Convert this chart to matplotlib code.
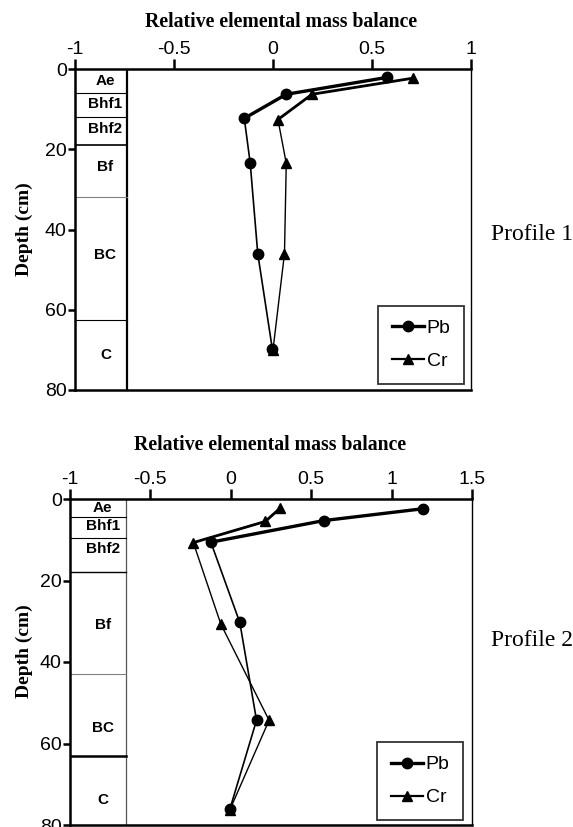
import matplotlib
matplotlib.use("Agg")
import matplotlib.pyplot as plt
from matplotlib.lines import Line2D

# ---------------- data ----------------
# Profile 1
p1_pb_x = [0.575, 0.067, -0.145, -0.115, -0.077, -0.003]
p1_pb_depth = [2.1, 6.3, 12.3, 23.5, 46.0, 69.9]
p1_cr_x = [0.705, 0.197, 0.025, 0.067, 0.058, 0.0]
p1_cr_depth = [2.3, 6.3, 12.6, 23.5, 46.0, 70.0]
p1_horizons = ["Ae", "Bhf1", "Bhf2", "Bf", "BC", "C"]
p1_label_depth = [3.1, 8.7, 15.0, 24.3, 46.3, 71.3]
p1_boundaries = [6, 12, 19, 32, 62.5]

# Profile 2
p2_pb_x = [1.193, 0.578, -0.124, 0.056, 0.160, -0.005]
p2_pb_depth = [2.4, 5.3, 10.6, 30.3, 54.3, 76.0]
p2_cr_x = [0.308, 0.215, -0.233, -0.062, 0.238, -0.005]
p2_cr_depth = [2.2, 5.5, 10.7, 30.7, 54.3, 76.2]
p2_horizons = ["Ae", "Bhf1", "Bhf2", "Bf", "BC", "C"]
p2_label_depth = [2.3, 6.6, 12.3, 31.0, 56.1, 73.9]
p2_boundaries = [4.3, 9.5, 17.8, 43, 63.1]

p1_xticks = [-1, -0.5, 0, 0.5, 1]
p1_xticklabels = ["-1", "-0.5", "0", "0.5", "1"]
p2_xticks = [-1, -0.5, 0, 0.5, 1, 1.5]
p2_xticklabels = ["-1", "-0.5", "0", "0.5", "1", "1.5"]
yticks = [0, 20, 40, 60, 80]

title_text = "Relative elemental mass balance"
ylabel_text = "Depth (cm)"

# ---------------- style ----------------
sans = ["Liberation Sans Narrow", "Liberation Sans", "DejaVu Sans"]
serif = ["Liberation Serif", "DejaVu Serif"]
boldsans = ["Liberation Sans", "DejaVu Sans"]

W, H = 573, 827
fig = plt.figure(figsize=(W / 100, H / 100), dpi=100)


def px_rect(left, right, top, bottom):
    return [left / W, 1 - bottom / H, (right - left) / W, (bottom - top) / H]


def make_panel(box, xlim, xticks, xticklabels, col_edge, col_style,
               pb_x, pb_d, cr_x, cr_d, horizons, label_d, bounds, bound_styles,
               leg_anchor, profile_name, title_xy, ylabel_xy, profile_y):
    ax = fig.add_axes(px_rect(*box))
    ax.set_xlim(*xlim)
    ax.set_ylim(80, 0)
    ax.xaxis.tick_top()
    ax.set_xticks(xticks)
    ax.set_xticklabels(xticklabels, family=sans, fontsize=14)
    ax.set_yticks(yticks)
    ax.set_yticklabels([str(v) for v in yticks], family=sans, fontsize=14)
    ax.tick_params(axis="x", direction="out", length=7, width=1.8, pad=1)
    ax.tick_params(axis="y", direction="out", length=5, width=1.8, pad=1)
    for s in ["top", "left", "bottom"]:
        ax.spines[s].set_linewidth(1.8)
    ax.spines["right"].set_linewidth(1.0)

    # horizon column
    ax.plot([col_edge, col_edge], [0, 80], color=col_style[0], lw=col_style[1])
    for b, (c, lw) in zip(bounds, bound_styles):
        ax.plot([xlim[0], col_edge], [b, b], color=c, lw=lw)
    cx = xlim[0] + 0.59 * (col_edge - xlim[0])
    for name, d in zip(horizons, label_d):
        ax.text(cx, d, name, ha="center", va="center", family=boldsans,
                fontweight="bold", fontsize=11)

    # upper (thicker) segments
    ax.plot(pb_x[:3], pb_d[:3], color="black", lw=2.4, zorder=3)
    ax.plot(cr_x[:3], cr_d[:3], color="black", lw=2.0, zorder=3)
    # full profiles
    ax.plot(pb_x, pb_d, color="black", lw=1.2, marker="o", markersize=7.5, zorder=4)
    ax.plot(cr_x, cr_d, color="black", lw=1.0, marker="^", markersize=7.5, zorder=4)

    handles = [Line2D([], [], color="black", lw=2.4, marker="o", markersize=7.5),
               Line2D([], [], color="black", lw=1.6, marker="^", markersize=7.5)]
    leg = ax.legend(handles, ["Pb", "Cr"], loc="lower left", bbox_to_anchor=leg_anchor,
                    frameon=True, fancybox=False, edgecolor="black",
                    prop={"family": sans, "size": 14},
                    handlelength=1.65, handletextpad=0.15, labelspacing=0.8,
                    borderpad=0.7, borderaxespad=0)
    leg.get_frame().set_linewidth(1.3)

    fig.text(title_xy[0] / W, 1 - title_xy[1] / H, title_text, ha="center", va="center",
             family=serif, fontweight="bold", fontsize=14.2)
    fig.text(ylabel_xy[0] / W, 1 - ylabel_xy[1] / H, ylabel_text, rotation=90,
             ha="center", va="center", family=serif, fontweight="bold", fontsize=14)
    fig.text(1.0, 1 - profile_y / H, profile_name, ha="right", va="center",
             family=serif, fontsize=17)
    return ax


make_panel((75, 471, 69, 390), (-1, 1), p1_xticks, p1_xticklabels,
           -0.739, ("black", 1.6),
           p1_pb_x, p1_pb_depth, p1_cr_x, p1_cr_depth,
           p1_horizons, p1_label_depth, p1_boundaries,
           [("black", 0.8), ("black", 0.8), ("black", 1.2), ("gray", 0.8), ("black", 0.8)],
           (0.765, 0.019), "Profile 1", (281, 22), (24, 229), 235)

make_panel((70, 472, 499, 825), (-1, 1.5), p2_xticks, p2_xticklabels,
           -0.654, ("#555555", 0.9),
           p2_pb_x, p2_pb_depth, p2_cr_x, p2_cr_depth,
           p2_horizons, p2_label_depth, p2_boundaries,
           [("black", 0.8), ("black", 0.8), ("black", 1.0), ("gray", 0.8), ("black", 1.8)],
           (0.764, 0.015), "Profile 2", (270, 445), (24, 651), 640)

fig.savefig("out.png", dpi=100)
